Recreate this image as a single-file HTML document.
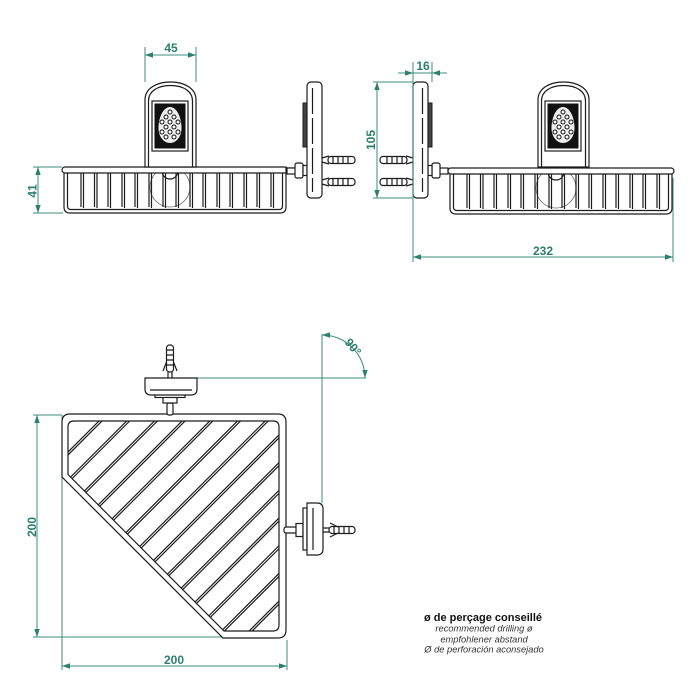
<!DOCTYPE html>
<html><head><meta charset="utf-8"><style>
html,body{margin:0;padding:0;background:#fff;}
svg{display:block;}
.d{fill:none;stroke:#1c1c1c;stroke-width:1.2;}
.w{fill:#fff;stroke:#1c1c1c;stroke-width:1.2;}
.t{fill:none;stroke:#3a8c7d;stroke-width:1;}
.tx{font-family:"Liberation Sans",Arial,sans-serif;font-weight:bold;font-size:12px;fill:#2b7f70;}
</style></head><body>
<svg width="700" height="700" viewBox="0 0 700 700" xmlns="http://www.w3.org/2000/svg">
<defs>
<marker id="a" viewBox="0 0 8 6" refX="8" refY="3" markerWidth="8" markerHeight="6" markerUnits="userSpaceOnUse" orient="auto-start-reverse"><path d="M0,0.3 L8,3 L0,5.7 Z" fill="#2b8070"/></marker>
<clipPath id="inner"><path d="M68,427 Q68,421 74,421 L273,421 Q279,421 279,427 L279,625 Q279,631 273,631 L224,631 L68,474.5 Z"/></clipPath>
<g id="basketTop">
  <circle cx="170" cy="187" r="20" fill="none" stroke="#666" stroke-width="0.8"/>
  <circle cx="170" cy="171" r="8" class="w"/>
  <path class="d" d="M64,173 L64,207 Q64,213 70,213 L280,213 Q286,213 286,207 L286,173"/>
  <path class="d" d="M67.5,173 L67.5,206 Q67.5,209.5 71,209.5 L279,209.5 Q282.5,209.5 282.5,206 L282.5,173"/>
  <g class="d" stroke-width="1">
    <path d="M81,173V207M83.5,173V208M94.5,173V207M97,173V208M108,173V207M110.5,173V208M122,173V207M124.5,173V208M135,173V207M137.5,173V208M149,173V207M151.5,173V208M163,173V207M165.5,173V208M176,173V207M178.5,173V208M190,173V207M192.5,173V208M203,173V207M205.5,173V208M217,173V207M219.5,173V208M230,173V207M232.5,173V208M244,173V207M246.5,173V208M257,173V207M259.5,173V208M271,173V207M273.5,173V208"/>
  </g>
  <rect x="62" y="167" width="226" height="6" rx="3" class="w"/>
</g>
<g id="plateTop">
  <path class="w" d="M145,167 L145,100 C145,88 157,82 170.5,82 C184,82 196,88 196,100 L196,167 Z"/>
  <path class="d" stroke-width="0.9" d="M148.5,167 L148.5,101 C148.5,91 158,85.5 170.5,85.5 C183,85.5 192.5,91 192.5,101 L192.5,167"/>
  <rect x="152" y="101" width="36" height="50" class="w"/>
  <rect x="154.5" y="103.5" width="31" height="45" fill="#111"/>
  <path d="M170,107 C177,107 181.5,118 181.5,128 C181.5,137 176,143 170,143 C164,143 158.5,137 158.5,128 C158.5,118 163,107 170,107 Z" fill="#eee"/>
  <g fill="#fff" stroke="#111" stroke-width="1">
    <circle cx="170" cy="112" r="2"/>
    <circle cx="166" cy="117" r="2"/><circle cx="174" cy="117" r="2"/>
    <circle cx="162" cy="122" r="2"/><circle cx="170" cy="122" r="2"/><circle cx="178" cy="122" r="2"/>
    <circle cx="166" cy="127" r="2"/><circle cx="174" cy="127" r="2"/>
    <circle cx="162" cy="132" r="2"/><circle cx="170" cy="132" r="2"/><circle cx="178" cy="132" r="2"/>
    <circle cx="166" cy="137" r="2"/><circle cx="174" cy="137" r="2"/>
  </g>
</g>
<g id="side">
  <rect x="287" y="168" width="10" height="6" class="w"/>
  <rect x="295" y="163" width="8" height="15" rx="2" class="w"/>
  <rect x="303" y="165.5" width="4" height="10" class="w"/>
  <rect x="303" y="103" width="4" height="44" fill="#444" stroke="#1c1c1c" stroke-width="1"/>
  <rect x="307" y="82" width="15" height="116" rx="4" class="w"/>
  <line x1="312.5" y1="88" x2="312.5" y2="192" class="d" stroke-width="0.8" stroke-dasharray="26,4"/>
  <g id="dow">
    <path class="d" d="M322,158 L329,156 M322,162 L329,164"/>
    <rect x="328" y="156.5" width="27" height="7" rx="3" class="w"/>
    <path class="d" stroke-width="1" d="M333,156.5V163.5M338,156.5V163.5M343,156.5V163.5M348,156.5V163.5"/>
  </g>
  <use href="#dow" transform="translate(0,22)"/>
</g>
</defs>

<rect width="700" height="700" fill="#fff"/>

<!-- TOP LEFT VIEW -->
<use href="#basketTop"/>
<use href="#plateTop"/>
<!-- knob right of rim -->
<rect x="286" y="168" width="10" height="5" class="w"/>

<!-- SIDE VIEWS -->
<use href="#side"/>
<use href="#side" transform="translate(735,0) scale(-1,1)"/>

<!-- TOP RIGHT VIEW -->
<use href="#basketTop" transform="translate(386,1)"/>
<use href="#plateTop" transform="translate(393,0)"/>

<!-- dims top -->
<g class="t">
  <line x1="145" y1="47" x2="145" y2="82"/>
  <line x1="196" y1="47" x2="196" y2="82"/>
  <line x1="145" y1="55" x2="196" y2="55" marker-start="url(#a)" marker-end="url(#a)"/>
  <line x1="33" y1="167" x2="62" y2="167"/>
  <line x1="33" y1="213" x2="63" y2="213"/>
  <line x1="38" y1="167" x2="38" y2="213" marker-start="url(#a)" marker-end="url(#a)"/>
  <line x1="373" y1="82" x2="413" y2="82"/>
  <line x1="373" y1="198" x2="413" y2="198"/>
  <line x1="377" y1="82" x2="377" y2="198" marker-start="url(#a)" marker-end="url(#a)"/>
  <line x1="413" y1="62" x2="413" y2="262"/>
  <line x1="432" y1="62" x2="432" y2="82"/>
  <line x1="398" y1="73" x2="447" y2="73"/>
  <line x1="398" y1="73" x2="413" y2="73" marker-end="url(#a)"/>
  <line x1="447" y1="73" x2="432" y2="73" marker-end="url(#a)"/>
  <line x1="673" y1="178" x2="673" y2="262"/>
  <line x1="413" y1="257" x2="673" y2="257" marker-start="url(#a)" marker-end="url(#a)"/>
</g>
<text class="tx" x="171" y="52" text-anchor="middle">45</text>
<text class="tx" transform="translate(36.5,191) rotate(-90)" text-anchor="middle">41</text>
<text class="tx" transform="translate(375,140) rotate(-90)" text-anchor="middle">105</text>
<text class="tx" x="423" y="70" text-anchor="middle">16</text>
<text class="tx" x="543" y="255" text-anchor="middle">232</text>

<!-- BOTTOM VIEW: dims -->
<g class="t">
  <line x1="197" y1="378" x2="366" y2="378"/>
  <line x1="322" y1="334" x2="322" y2="503"/>
  <path d="M322,335 A43,43 0 0 1 365,378" marker-start="url(#a)" marker-end="url(#a)"/>
  <line x1="33" y1="415" x2="62" y2="415"/>
  <line x1="33" y1="637" x2="222" y2="637"/>
  <line x1="37" y1="415" x2="37" y2="637" marker-start="url(#a)" marker-end="url(#a)"/>
  <line x1="62" y1="415" x2="62" y2="670"/>
  <line x1="287" y1="640" x2="287" y2="670"/>
  <line x1="62" y1="666" x2="287" y2="666" marker-start="url(#a)" marker-end="url(#a)"/>
</g>
<text class="tx" transform="translate(353,347) rotate(50)" text-anchor="middle" dy="4">90°</text>
<text class="tx" transform="translate(36,527) rotate(-90)" text-anchor="middle">200</text>
<text class="tx" x="174" y="664" text-anchor="middle">200</text>

<!-- BOTTOM VIEW: basket -->
<path class="w" d="M62,422 Q62,414 70,414 L278,414 Q286,414 286,422 L286,630 Q286,638 278,638 L223,638 L62,477 Z"/>
<path class="d" d="M68,427 Q68,421 74,421 L273,421 Q279,421 279,427 L279,625 Q279,631 273,631 L224,631 L68,474.5 Z"/>
<g clip-path="url(#inner)" class="d" stroke-width="1.1">
  <path d="M-130,650 L250,270 M-127,650 L253,270"/>
  <path d="M-102.3,650 L277.7,270 M-99.3,650 L280.7,270"/>
  <path d="M-74.6,650 L305.4,270 M-71.6,650 L308.4,270"/>
  <path d="M-46.9,650 L333.1,270 M-43.9,650 L336.1,270"/>
  <path d="M-19.2,650 L360.8,270 M-16.2,650 L363.8,270"/>
  <path d="M8.5,650 L388.5,270 M11.5,650 L391.5,270"/>
  <path d="M36.2,650 L416.2,270 M39.2,650 L419.2,270"/>
  <path d="M63.9,650 L443.9,270 M66.9,650 L446.9,270"/>
  <path d="M91.6,650 L471.6,270 M94.6,650 L474.6,270"/>
  <path d="M119.3,650 L499.3,270 M122.3,650 L502.3,270"/>
  <path d="M147,650 L527,270 M150,650 L530,270"/>
  <path d="M174.7,650 L554.7,270 M177.7,650 L557.7,270"/>
  <path d="M202.4,650 L582.4,270 M205.4,650 L585.4,270"/>
  <path d="M230.1,650 L610.1,270 M233.1,650 L613.1,270"/>
</g>

<!-- top mount -->
<rect x="167" y="403" width="6" height="12" rx="2" class="w"/>
<rect x="163" y="397" width="14" height="6" class="w"/>
<rect x="155" y="394.5" width="30" height="3" class="w"/>
<path class="w" d="M145,378 L197,378 L197,389 Q197,395 191,395 L151,395 Q145,395 145,389 Z"/>
<line x1="150" y1="390" x2="192" y2="390" class="d" stroke-width="0.9"/>
<rect x="166.5" y="345" width="7" height="27" rx="3" class="w"/>
<path class="d" stroke-width="1" d="M166.5,350H173.5M166.5,355H173.5M166.5,360H173.5M166.5,365H173.5M168,372V378M172,372V378"/>
<path class="d" d="M163,371 L166.5,362 M177,371 L173.5,362"/>

<!-- right mount -->
<rect x="284" y="527" width="13" height="6" rx="2" class="w"/>
<rect x="296" y="523.5" width="7" height="13" class="w"/>
<rect x="303" y="508" width="4" height="42" class="w"/>
<path class="w" d="M307,503 L317,503 Q323,503 323,509 L323,549 Q323,555 317,555 L307,555 Z"/>
<line x1="313" y1="508" x2="313" y2="550" class="d" stroke-width="0.9"/>
<rect x="329" y="526.5" width="26" height="7" rx="3" class="w"/>
<path class="d" stroke-width="1" d="M334,526.5V533.5M339,526.5V533.5M344,526.5V533.5M349,526.5V533.5M323,528H329M323,532H329"/>
<path class="d" d="M330,523 L338,527 M330,537 L338,533"/>

<!-- note -->
<g font-family="'Liberation Sans',Arial,sans-serif" text-anchor="middle">
  <text x="483" y="621" font-size="11" font-weight="bold" fill="#111">ø de perçage conseillé</text>
  <text x="484" y="631.5" font-size="9.3" font-style="italic" fill="#333">recommended drilling ø</text>
  <text x="484" y="642.3" font-size="9.3" font-style="italic" fill="#333">empfohlener abstand</text>
  <text x="484" y="652.6" font-size="9.3" font-style="italic" fill="#333">Ø de perforación aconsejado</text>
</g>
</svg>
</body></html>
